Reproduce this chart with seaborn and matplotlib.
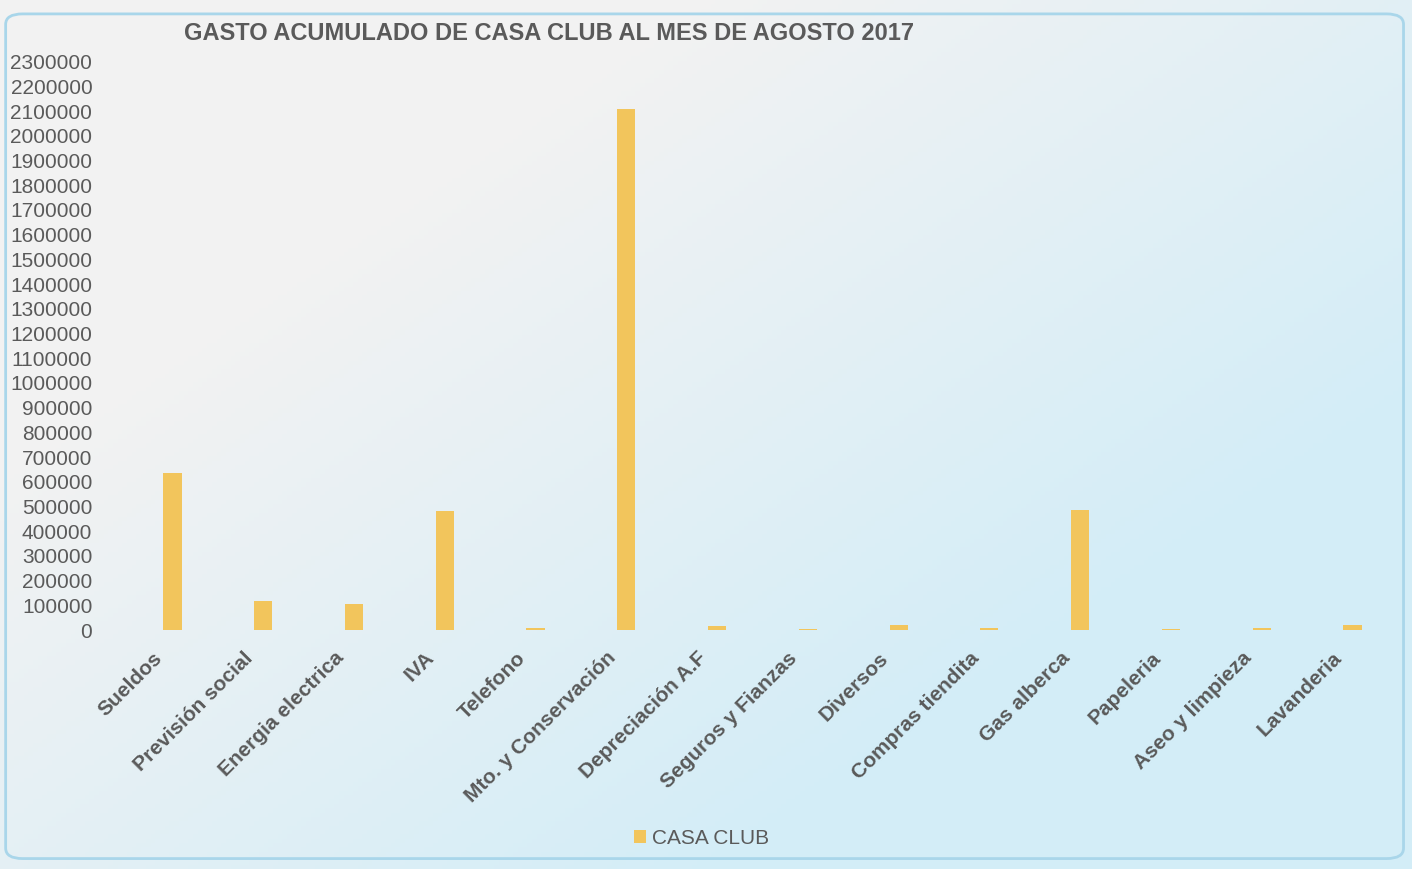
import matplotlib.pyplot as plt
import matplotlib.transforms as mtransforms
import numpy as np
import pandas as pd
import seaborn as sns
from matplotlib.patches import FancyBboxPatch

# Inputs
CATEGORIAS = ["Sueldos", "Previsión social", "Energia electrica", "IVA", "Telefono",
              "Mto. y Conservación", "Depreciación A.F", "Seguros y Fianzas", "Diversos",
              "Compras tiendita", "Gas alberca", "Papeleria", "Aseo y limpieza", "Lavanderia"]
GASTOS = [635000, 117000, 105000, 482000, 8000,
          2110000, 15000, 6000, 20000,
          10000, 485000, 3000, 8000, 20000]
SERIE = "CASA CLUB"
TITULO = "GASTO ACUMULADO DE CASA CLUB AL MES DE AGOSTO 2017"
Y_TICKS = list(range(0, 2300001, 100000))
# Outputs
PATH_PLOT = "out.png"

GRIS = "#5a5a5a"
AMARILLO = "#f2c55c"


def main():
    df = pd.DataFrame({"categoria": CATEGORIAS, "gasto": GASTOS, "serie": SERIE})

    sns.set_theme(style="white")
    plt.rcParams["font.family"] = ["Liberation Sans", "DejaVu Sans"]

    fig = plt.figure(figsize=(14.12, 8.69), dpi=100)

    # scanned-paper look: whitish on the upper left fading to light blue
    bg = fig.add_axes([0, 0, 1, 1], zorder=-2)
    gx, gy = np.meshgrid(np.linspace(0, 1, 300), np.linspace(0, 1, 200))
    mix = np.clip(1.1 * gx + 1.0 * gy - 0.55, 0, 1)
    top = np.array([0.95, 0.95, 0.95])
    bot = np.array([0.83, 0.93, 0.97])
    img = top[None, None, :] * (1 - mix[..., None]) + bot[None, None, :] * mix[..., None]
    bg.imshow(img, aspect="auto", extent=[0, 1, 0, 1], origin="upper")
    bg.add_patch(FancyBboxPatch((0.004, 0.012), 0.99, 0.972, boxstyle="round,pad=0,rounding_size=0.012",
                                transform=bg.transAxes, fill=False, edgecolor="#a9d6ea", lw=2))
    bg.set_xlim(0, 1)
    bg.set_ylim(0, 1)
    bg.axis("off")

    ax = fig.add_axes([0.09, 0.275, 0.9, 0.654])
    ax.patch.set_alpha(0)
    sns.barplot(data=df, x="categoria", y="gasto", hue="serie", palette=[AMARILLO],
                width=0.2, ax=ax, saturation=1, linewidth=0)

    ax.set_ylim(0, 2300000)
    ax.set_yticks(Y_TICKS)
    ax.set_yticklabels([str(t) for t in Y_TICKS], fontsize=15, color=GRIS)
    ax.set_xticks(range(len(CATEGORIAS)))
    ax.set_xticklabels(CATEGORIAS, rotation=45, ha="right", rotation_mode="anchor",
                       fontsize=15, color=GRIS, fontweight="bold")
    ax.tick_params(axis="y", length=0, pad=25)
    ax.tick_params(axis="x", length=0, pad=6)
    shift = mtransforms.ScaledTranslation(-20 / 100, -10 / 100, fig.dpi_scale_trans)
    for lbl in ax.get_xticklabels():
        lbl.set_transform(lbl.get_transform() + shift)
    ax.set_xlabel("")
    ax.set_ylabel("")
    sns.despine(ax=ax, left=True, bottom=True)

    fig.text(0.389, 0.962, TITULO, ha="center", va="center", fontsize=17,
             fontweight="bold", color=GRIS)

    leg = ax.legend(loc="center", bbox_to_anchor=(0.497, 0.035), bbox_transform=fig.transFigure,
                    frameon=False, fontsize=15, handlelength=0.55, handleheight=0.55,
                    handletextpad=0.3)
    for t in leg.get_texts():
        t.set_color(GRIS)

    fig.savefig(PATH_PLOT, dpi=100)


if __name__ == '__main__':
    main()
